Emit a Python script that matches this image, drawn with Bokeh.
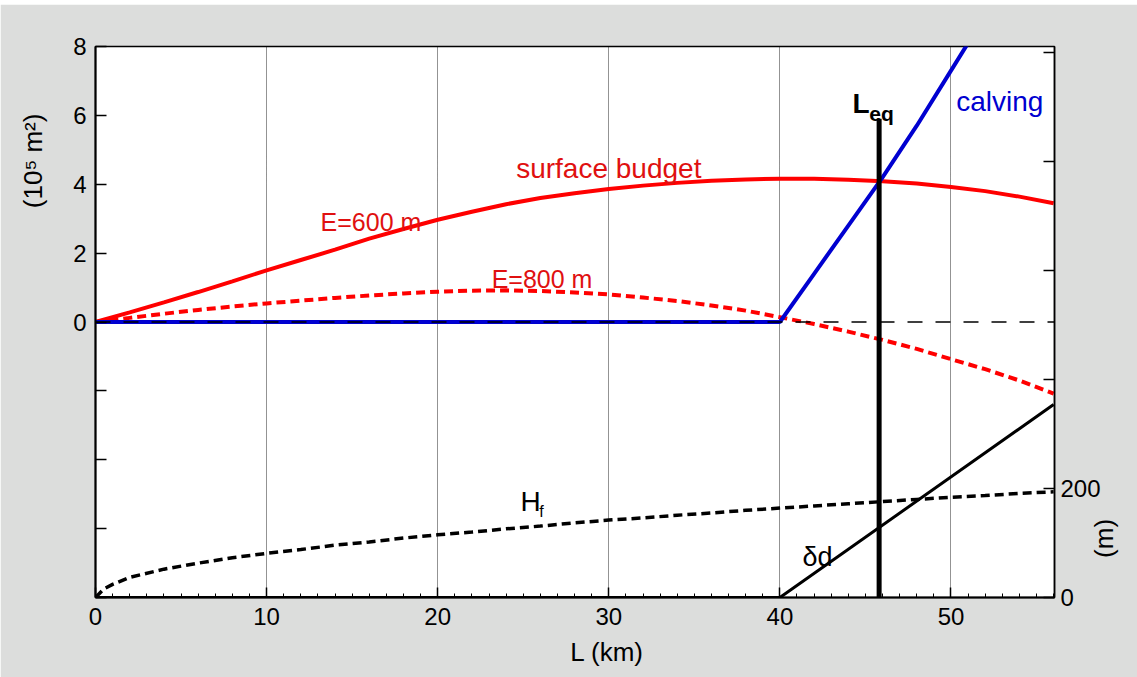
import math
from bokeh.plotting import figure
from bokeh.models import Range1d, LinearAxis, FixedTicker, Label, Span, Spacer
from bokeh.layouts import column
from bokeh.embed import file_html
from bokeh.resources import INLINE

# ---- data ----
L_km = [0, 2, 4, 6, 8, 10, 12, 14, 16, 18, 20, 22, 24, 26, 28,
        30, 32, 34, 36, 38, 40, 42, 44, 46, 48, 50, 52, 54, 56]
budget_e600 = [0, 0.28, 0.57, 0.87, 1.18, 1.5, 1.8, 2.1, 2.42, 2.7, 2.97, 3.2, 3.42, 3.6, 3.74,
               3.86, 3.96, 4.04, 4.1, 4.14, 4.16, 4.16, 4.13, 4.09, 4.02, 3.92, 3.8, 3.64, 3.45]
budget_e800 = [0, 0.12, 0.24, 0.35, 0.45, 0.54, 0.62, 0.7, 0.77, 0.83, 0.88, 0.91, 0.92, 0.9, 0.86,
               0.8, 0.71, 0.61, 0.48, 0.33, 0.14, -0.06, -0.28, -0.52, -0.78, -1.08, -1.37, -1.7, -2.08]

L_hf = [0, 0.5, 1, 2, 4, 6, 8, 10, 12, 14, 16, 18, 20, 22, 24, 26, 28,
        30, 32, 34, 36, 38, 40, 42, 44, 46, 48, 50, 52, 54, 56]
hf_m = [0, 16, 24, 37, 52, 63, 73, 81, 88, 96, 102, 109, 115, 120, 126, 131, 137,
        142, 146, 151, 155, 160, 164, 168, 172, 176, 180, 184, 187, 191, 194]

L_calving = [0, 40, 42, 44, 46, 48, 50, 52]
calving = [0, 0, 1.4, 2.8, 4.2, 5.7, 7.3, 8.9]

L_dd = [0, 40, 56]
dd_m = [0, 0, 354]

L_eq = 45.8
L_eq_top = 5.9

x_ticks = [0, 10, 20, 30, 40, 50]
y_ticks = [-8, -6, -4, -2, 0, 2, 4, 6, 8]
y_labels = ["", "", "", "", "0", "2", "4", "6", "8"]
m_ticks = [0, 200, 400, 600, 800, 1000]
m_labels = ["0", "200", "", "", "", ""]

y_title = "(10⁵ m²)"
m_title = "(m)"
x_title = "L (km)"

FONT = "Liberation Sans"
RED = "#ff0000"
RED_TXT = "#e01010"
BLUE = "#0000d0"

W, H = 1137, 673
p = figure(width=W, height=H, output_backend="svg", toolbar_location=None,
           x_range=Range1d(0, 56.05), y_range=Range1d(-8, 8),
           min_border_left=95, min_border_right=81, min_border_top=42, min_border_bottom=80)
p.background_fill_color = "white"
p.border_fill_color = "#dcdddc"
p.outline_line_color = "black"
p.outline_line_width = 1.5

p.extra_y_ranges = {"m": Range1d(0, 1011)}

# grids
p.ygrid.visible = False
p.xgrid.ticker = FixedTicker(ticks=x_ticks[1:])
p.xgrid.grid_line_color = "#000000"
p.xgrid.grid_line_alpha = 0.85
p.xgrid.grid_line_dash = "1 1"
p.xgrid.grid_line_width = 1


def style_axis(ax, size="24px", standoff=8):
    ax.major_tick_out = 0
    ax.minor_tick_in = 0
    ax.minor_tick_out = 0
    ax.major_tick_line_width = 1.5
    ax.major_label_text_font = FONT
    ax.major_label_text_font_size = size
    ax.major_label_text_color = "black"
    ax.major_label_standoff = standoff


def title_axis(ax, size, standoff, orientation):
    style_axis(ax, size, standoff)
    ax.axis_line_color = None
    ax.major_tick_line_color = None
    ax.minor_tick_line_color = None
    ax.major_tick_in = 0
    ax.major_label_orientation = orientation


# bottom axis
xa = p.xaxis[0]
xa.ticker = FixedTicker(ticks=x_ticks, minor_ticks=list(range(0, 57)))
style_axis(xa, standoff=10)
xa.major_tick_in = 10
xa.minor_tick_in = 4
xa.minor_tick_line_width = 1
xa.axis_line_width = 2

# left axis
ya = p.yaxis[0]
ya.ticker = FixedTicker(ticks=y_ticks)
ya.major_label_overrides = {t: s for t, s in zip(y_ticks, y_labels)}
style_axis(ya, standoff=9)
ya.major_tick_in = 11
ya.axis_line_width = 2

# right axis (m)
ra = LinearAxis(y_range_name="m", ticker=FixedTicker(ticks=m_ticks))
ra.major_label_overrides = {t: s for t, s in zip(m_ticks, m_labels)}
style_axis(ra, standoff=6)
ra.major_tick_in = 11
ra.axis_line_width = 1.5
p.add_layout(ra, "right")

# axis titles drawn as single-tick label axes, placed like the reference
ya_t = LinearAxis(ticker=FixedTicker(ticks=[6.05]), major_label_overrides={6.05: y_title})
title_axis(ya_t, "26px", 37, math.pi / 2)
p.add_layout(ya_t, "left")

ra_t = LinearAxis(ticker=FixedTicker(ticks=[-6.85]), major_label_overrides={-6.85: m_title})
title_axis(ra_t, "26px", 1, math.pi / 2)
p.add_layout(ra_t, "right")

xa_t = LinearAxis(ticker=FixedTicker(ticks=[29.9]), major_label_overrides={29.9: x_title})
title_axis(xa_t, "26px", 9, "horizontal")
p.add_layout(xa_t, "below")

# curves
p.line(L_km, budget_e600, line_color=RED, line_width=4)
p.line(L_km, budget_e800, line_color=RED, line_width=4, line_dash="9 5")
p.line(L_hf, hf_m, y_range_name="m", line_color="black", line_width=3.5, line_dash="9 5")
p.line(L_dd, dd_m, y_range_name="m", line_color="black", line_width=3)
p.line(L_calving, calving, line_color=BLUE, line_width=4)
p.segment(x0=[L_eq], y0=[y_ticks[0]], x1=[L_eq], y1=[L_eq_top], line_color="black", line_width=5)

p.add_layout(Span(location=0, dimension="width", line_color="black", line_width=1.3, line_dash="15 13"))


def lab(x, y, text, size, color="black", align="left", style="normal"):
    p.add_layout(Label(x=x, y=y, text=text, text_font=FONT, text_font_size=size,
                       text_color=color, text_align=align, text_baseline="alphabetic",
                       text_font_style=style))


lab(30.0, 4.455, "surface budget", "28px", RED_TXT, "center")
lab(16.1, 2.907, "E=600 m", "25px", RED_TXT, "center")
lab(26.1, 1.238, "E=800 m", "25px", RED_TXT, "center")
lab(52.85, 6.41, "calving", "28px", BLUE, "center")
lab(44.25, 6.34, "L", "28px", "black", "left", style="bold")
lab(45.22, 6.06, "eq", "21px", "black", "left", style="bold")
lab(24.84, -5.226, "H", "28px", "black", "left")
lab(25.94, -5.50, "f", "16px", "black", "left")
lab(42.2, -6.82, "δd", "27px", "black", "center")

layout = column(Spacer(width=W, height=4), p)
open("out.html", "w").write(file_html(layout, INLINE))
